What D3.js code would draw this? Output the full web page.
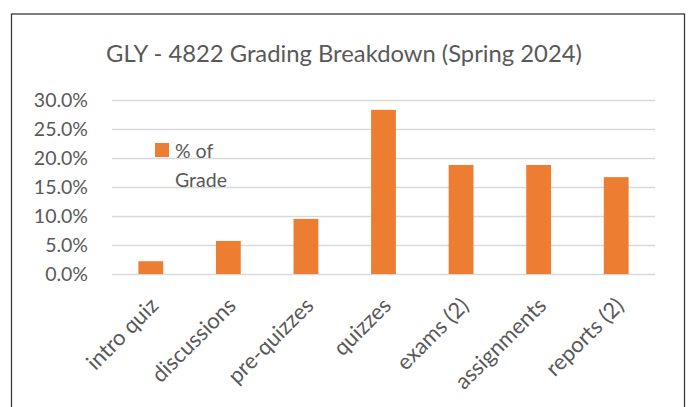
<!DOCTYPE html>
<html>
<head>
<meta charset="utf-8">
<script src="https://cdnjs.cloudflare.com/ajax/libs/d3/7.8.5/d3.min.js"></script>
<style>
  body { margin: 0; background: #fff; }
  svg { display: block; }
</style>
</head>
<body>
<div id="chart"></div>
<script>
// data
var categories = ["intro quiz", "discussions", "pre-quizzes", "quizzes", "exams (2)", "assignments", "reports (2)"];
var percentOfGrade = [2.2, 5.7, 9.5, 28.3, 18.8, 18.8, 16.7];
var yTicks = [0, 5, 10, 15, 20, 25, 30];
var seriesName = ["% of", "Grade"];

var width = 690, height = 407;
var plot = { left: 112, right: 655, top: 100, bottom: 274 };

var svg = d3.select("#chart")
    .append("svg")
    .attr("width", width)
    .attr("height", height);

var font = "Lato, 'Open Sans', sans-serif";
var textColor = "#595959";
var labelSize = "19.5px";

// chart border
svg.append("rect")
    .attr("x", 11.5)
    .attr("y", 14)
    .attr("width", 673)
    .attr("height", height)
    .attr("fill", "#fff")
    .attr("stroke", "#3a3a3a")
    .attr("stroke-width", 1.3);

// title
svg.append("text")
    .attr("x", 344)
    .attr("y", 62)
    .attr("text-anchor", "middle")
    .style("font-family", font)
    .style("font-size", "23.8px")
    .style("fill", textColor)
    .text("GLY - 4822 Grading Breakdown (Spring 2024)");

var x = d3.scaleBand()
    .domain(categories)
    .range([plot.left, plot.right])
    .paddingInner(0.68)
    .paddingOuter(0.34);

var y = d3.scaleLinear()
    .domain([0, 30])
    .range([plot.bottom, plot.top]);

// y axis + gridlines
var yAxis = svg.append("g")
    .attr("transform", "translate(" + plot.left + ",0)")
    .call(d3.axisLeft(y)
        .tickValues(yTicks)
        .tickSize(-(plot.right - plot.left))
        .tickPadding(24)
        .tickFormat(function (d) { return d.toFixed(1) + "%"; }));
yAxis.select(".domain").remove();
yAxis.selectAll(".tick line")
    .attr("stroke", "#d9d9d9")
    .attr("stroke-width", 1.3);
yAxis.selectAll(".tick text")
    .style("font-family", font)
    .style("font-size", labelSize)
    .style("fill", textColor);

// bars
svg.selectAll(".bar")
    .data(percentOfGrade)
    .enter()
    .append("rect")
    .attr("class", "bar")
    .attr("x", function (d, i) { return x(categories[i]); })
    .attr("y", function (d) { return y(d); })
    .attr("width", x.bandwidth())
    .attr("height", function (d) { return y(0) - y(d); })
    .attr("fill", "#ed7d31");

// x axis labels, rotated 45 deg
var xAxis = svg.append("g")
    .attr("transform", "translate(0," + y(0) + ")")
    .call(d3.axisBottom(x).tickSize(0).tickPadding(0));
xAxis.select(".domain").remove();
xAxis.selectAll(".tick text")
    .style("font-family", font)
    .style("font-size", "22px")
    .style("fill", textColor)
    .attr("text-anchor", "end")
    .attr("dy", null)
    .attr("y", 0)
    .attr("transform", "translate(9,33) rotate(-45)");

// legend
var legend = svg.append("g");
legend.append("rect")
    .attr("x", 155)
    .attr("y", 143)
    .attr("width", 14)
    .attr("height", 14)
    .attr("fill", "#ed7d31");
legend.selectAll("text")
    .data(seriesName)
    .enter()
    .append("text")
    .attr("x", 175)
    .attr("y", function (d, i) { return 158 + i * 29; })
    .style("font-family", font)
    .style("font-size", labelSize)
    .style("fill", textColor)
    .text(function (d) { return d; });
</script>
</body>
</html>
